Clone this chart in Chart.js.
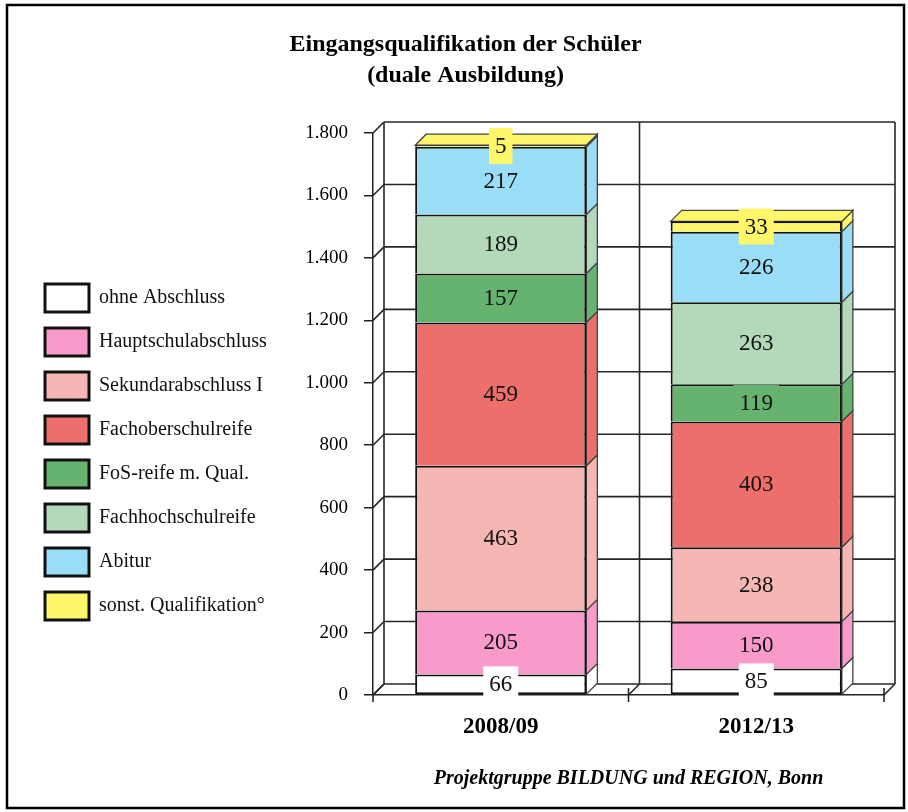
<!DOCTYPE html>
<html>
<head>
<meta charset="utf-8">
<script src="https://cdn.jsdelivr.net/npm/chart.js@4/dist/chart.umd.min.js"></script>
<style>
  html, body { margin: 0; padding: 0; background: #ffffff; }
  canvas { display: block; }
</style>
</head>
<body>
<canvas id="c" width="908" height="812"></canvas>
<script>
// ---- data ----
const categories = ['2008/09', '2012/13'];
const seriesNames = ['ohne Abschluss', 'Hauptschulabschluss', 'Sekundarabschluss I', 'Fachoberschulreife',
  'FoS-reife m. Qual.', 'Fachhochschulreife', 'Abitur', 'sonst. Qualifikation°'];
const ohneAbschluss = [66, 85];
const hauptschulabschluss = [205, 150];
const sekundarabschluss = [463, 238];
const fachoberschulreife = [459, 403];
const fosReifeQual = [157, 119];
const fachhochschulreife = [189, 263];
const abitur = [217, 226];
const sonstQualifikation = [5, 33];
const yTickLabels = ['0', '200', '400', '600', '800', '1.000', '1.200', '1.400', '1.600', '1.800'];
const titleLines = ['Eingangsqualifikation der Schüler', '(duale Ausbildung)'];
const sourceText = 'Projektgruppe BILDUNG und REGION, Bonn';

const seriesValues = [ohneAbschluss, hauptschulabschluss, sekundarabschluss, fachoberschulreife,
  fosReifeQual, fachhochschulreife, abitur, sonstQualifikation];
const seriesColors = ['#FFFFFF', '#F89BCB', '#F5B6B4', '#EC6F6B', '#66B26F', '#B3D9BA', '#99DDF7', '#FFF66C'];

const FONT = "'Liberation Serif', 'Times New Roman', serif";
Chart.defaults.font.family = FONT;
Chart.defaults.color = '#000';

const DX = 11, DY = 11;

const datasets = seriesNames.map((name, i) => ({
  label: name,
  data: seriesValues[i],
  backgroundColor: seriesColors[i],
  borderColor: '#111',
  borderWidth: 2,
  borderSkipped: i === 0 ? false : 'start',
  barPercentage: 0.67,
  categoryPercentage: 1.0
}));

function line(ctx, x1, y1, x2, y2) {
  ctx.beginPath(); ctx.moveTo(x1, y1); ctx.lineTo(x2, y2); ctx.stroke();
}

const threeD = {
  id: 'threeD',
  beforeDraw(chart) {
    const {ctx, width, height} = chart;
    ctx.save(); ctx.fillStyle = '#fff'; ctx.fillRect(0, 0, width, height); ctx.restore();
  },
  beforeDatasetsDraw(chart) {
    const {ctx, chartArea: ca, scales: {x, y}} = chart;
    ctx.save();
    ctx.strokeStyle = '#262626';
    ctx.lineWidth = 1.6;
    const y0 = y.getPixelForValue(0);
    const yTop = y.getPixelForValue(y.max);
    // back wall horizontal grid and left wall diagonals
    y.ticks.forEach(t => {
      const py = y.getPixelForValue(t.value);
      line(ctx, ca.left + DX, py - DY, ca.right + DX, py - DY);
      line(ctx, ca.left, py, ca.left + DX, py - DY);
    });
    // back wall verticals & floor diagonals at category boundaries
    for (let i = 0; i <= categories.length; i++) {
      const xb = x.getPixelForValue(i - 0.5);
      line(ctx, xb + DX, yTop - DY, xb + DX, y0 - DY);
      line(ctx, xb, y0, xb + DX, y0 - DY);
      line(ctx, xb, i === 0 ? y0 : y0 - 7, xb, y0 + 7);
    }
    // bar side and top faces
    const n = chart.data.datasets.length;
    for (let j = 0; j < categories.length; j++) {
      let topIdx = -1;
      for (let i = 0; i < n; i++) {
        const el = chart.getDatasetMeta(i).data[j];
        const xR = el.x + el.width / 2;
        const yt = el.y, yb = el.base;
        ctx.fillStyle = seriesColors[i];
        ctx.strokeStyle = '#444';
        ctx.lineWidth = 1.3;
        ctx.beginPath();
        ctx.moveTo(xR, yb); ctx.lineTo(xR, yt); ctx.lineTo(xR + DX, yt - DY);
        ctx.lineTo(xR + DX, yb - DY); ctx.closePath();
        ctx.fill(); ctx.stroke();
        if (chart.data.datasets[i].data[j] > 0) topIdx = i;
      }
      if (topIdx >= 0) {
        const el = chart.getDatasetMeta(topIdx).data[j];
        const xL = el.x - el.width / 2, xR = el.x + el.width / 2, yt = el.y;
        ctx.fillStyle = seriesColors[topIdx];
        ctx.beginPath();
        ctx.moveTo(xL, yt); ctx.lineTo(xL + DX, yt - DY); ctx.lineTo(xR + DX, yt - DY);
        ctx.lineTo(xR, yt); ctx.closePath();
        ctx.fill(); ctx.stroke();
      }
    }
    ctx.restore();
  },
  afterDatasetsDraw(chart) {
    const {ctx} = chart;
    ctx.save();
    ctx.font = '23px ' + FONT;
    ctx.textAlign = 'center';
    ctx.textBaseline = 'middle';
    chart.data.datasets.forEach((ds, i) => {
      chart.getDatasetMeta(i).data.forEach((el, j) => {
        const v = ds.data[j];
        const txt = String(v);
        const cy = (el.y + el.base) / 2;
        const w = ctx.measureText(txt).width + 12;
        const h = 36;
        ctx.fillStyle = seriesColors[i];
        ctx.fillRect(el.x - w / 2, cy - h / 2, w, h);
        ctx.fillStyle = '#111';
        ctx.fillText(txt, el.x, cy + 1);
      });
    });
    ctx.restore();
  },
  afterDraw(chart) {
    const {ctx} = chart;
    ctx.save();
    ctx.strokeStyle = '#000';
    ctx.lineWidth = 2.5;
    ctx.strokeRect(7, 5, 897, 803);
    ctx.restore();
  }
};

new Chart(document.getElementById('c'), {
  type: 'bar',
  data: { labels: categories, datasets },
  plugins: [threeD],
  options: {
    responsive: false,
    animation: false,
    devicePixelRatio: 1,
    events: [],
    layout: { padding: { top: 8, left: 29, right: 6, bottom: 8 } },
    plugins: {
      tooltip: { enabled: false },
      title: {
        display: true,
        text: titleLines,
        color: '#000',
        font: { family: FONT, size: 24, weight: 'bold', lineHeight: 1.3 },
        padding: { top: 21, bottom: 41.6 }
      },
      legend: {
        position: 'left',
        align: 'center',
        maxWidth: 300,
        title: { display: true, text: '', font: { size: 10, lineHeight: 1.2 }, padding: { top: 80, bottom: 0 } },
        labels: {
          boxWidth: 44,
          boxHeight: 28,
          padding: 16,
          color: '#111',
          font: { family: FONT, size: 20 },
          generateLabels(chart) {
            const items = Chart.defaults.plugins.legend.labels.generateLabels(chart);
            items.forEach(it => { it.lineWidth = 3; it.strokeStyle = '#111'; });
            return items;
          }
        }
      }
    },
    scales: {
      x: {
        stacked: true,
        grid: { display: false, drawTicks: false },
        border: { display: true, color: '#222', width: 1.5 },
        ticks: { color: '#000', padding: 18, font: { family: FONT, size: 23, weight: 'bold', lineHeight: 1.2 } },
        title: {
          display: true,
          text: sourceText,
          color: '#000',
          font: { family: FONT, size: 20, weight: 'bold', style: 'italic', lineHeight: 1.2 },
          padding: { top: 8.4, bottom: 13 }
        }
      },
      y: {
        stacked: true,
        min: 0,
        max: 1800,
        ticks: {
          stepSize: 200,
          color: '#000',
          padding: 16,
          font: { family: FONT, size: 19 },
          callback: (v) => yTickLabels[Math.round(v / 200)]
        },
        grid: { drawOnChartArea: false, drawTicks: true, tickLength: 9, color: '#222', lineWidth: 1.5 },
        border: { display: true, color: '#222', width: 1.5 },
        afterFit(scale) {
          const lg = scale.chart.legend;
          scale.width = 344 - (lg ? lg.width : 0);
        }
      },
      y2: {
        position: 'right',
        display: true,
        grid: { display: false, drawTicks: false },
        border: { display: false },
        ticks: { display: false },
        afterFit(scale) { scale.width = 18; }
      }
    }
  }
});
</script>
</body>
</html>
